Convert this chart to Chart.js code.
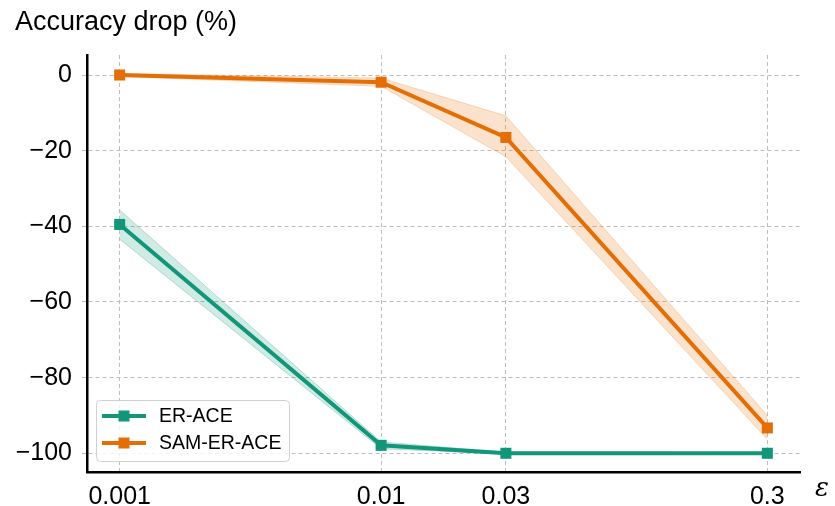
<!DOCTYPE html>
<html lang="en">
<head>
    <meta charset="UTF-8">
    <title>Accuracy drop vs epsilon</title>
    <script src="https://cdn.jsdelivr.net/npm/chart.js"></script>
    <style>
        body {
            margin: 0;
            background: #ffffff;
        }
        .wrap {
            width: 835px;
            height: 506px;
        }
    </style>
</head>
<body>
    <div class="wrap">
        <canvas id="dropChart" width="835" height="506"></canvas>
    </div>

    <script>
        // values
        const epsilons = [0.001, 0.01, 0.03, 0.3];
        const erAce = [-39.5, -97.9, -100, -100];
        const erAceUpper = [-35.7, -97.0, -99.7, -99.8];
        const erAceLower = [-43.4, -98.8, -100.2, -100.2];
        const samErAce = [0, -1.9, -16.5, -93.3];
        const samErAceUpper = [0.4, -0.8, -10.8, -90.0];
        const samErAceLower = [-0.4, -3.0, -21.6, -96.3];
        const xTicks = [0.001, 0.01, 0.03, 0.3];
        const yTicks = [-100, -80, -60, -40, -20, 0];

        const green = '#12967a';
        const orange = '#e46e05';
        const font = '"Liberation Sans", Arial, sans-serif';

        const toPoints = (ys) => ys.map((y, i) => ({ x: epsilons[i], y: y }));

        const extras = {
            id: 'extras',
            afterDraw(chart) {
                const ctx = chart.ctx;
                ctx.save();
                // title
                ctx.fillStyle = '#000';
                ctx.font = '27px ' + font;
                ctx.textBaseline = 'alphabetic';
                ctx.textAlign = 'left';
                ctx.fillText('Accuracy drop (%)', 15, 29.5);
                // epsilon axis label
                ctx.font = 'italic 26px "DejaVu Serif", serif';
                ctx.fillText('\u03b5', 815, 496);

                // legend box
                const bx = 96.5, by = 400.5, bw = 193, bh = 61;
                ctx.beginPath();
                ctx.roundRect(bx, by, bw, bh, 4);
                ctx.fillStyle = 'rgba(255,255,255,0.8)';
                ctx.fill();
                ctx.strokeStyle = '#d0d0d0';
                ctx.lineWidth = 1;
                ctx.stroke();

                const entries = [['ER-ACE', green, 416], ['SAM-ER-ACE', orange, 443]];
                entries.forEach(([label, color, y]) => {
                    ctx.strokeStyle = color;
                    ctx.lineWidth = 4;
                    ctx.beginPath();
                    ctx.moveTo(102, y);
                    ctx.lineTo(146, y);
                    ctx.stroke();
                    ctx.fillStyle = color;
                    ctx.fillRect(118.5, y - 5.5, 11, 11);
                    ctx.fillStyle = '#000';
                    ctx.font = '19.5px ' + font;
                    ctx.textBaseline = 'middle';
                    ctx.fillText(label, 159, y + 1);
                });
                ctx.restore();
            }
        };

        const bandStyle = (color) => ({
            borderColor: color,
            borderWidth: 1,
            pointRadius: 0,
            tension: 0
        });

        new Chart(document.getElementById('dropChart').getContext('2d'), {
            type: 'line',
            data: {
                datasets: [{
                    label: 'ER-ACE',
                    data: toPoints(erAce),
                    borderColor: green,
                    backgroundColor: green,
                    borderWidth: 4,
                    pointStyle: 'rect',
                    pointRadius: 7.8,
                    pointBorderWidth: 0,
                    fill: false,
                    order: 1
                }, {
                    label: 'SAM-ER-ACE',
                    data: toPoints(samErAce),
                    borderColor: orange,
                    backgroundColor: orange,
                    borderWidth: 4,
                    pointStyle: 'rect',
                    pointRadius: 7.8,
                    pointBorderWidth: 0,
                    fill: false,
                    order: 1
                }, {
                    label: 'er-upper',
                    data: toPoints(erAceUpper),
                    ...bandStyle('rgba(18,150,122,0.25)'),
                    backgroundColor: 'rgba(18,150,122,0.2)',
                    fill: '+1',
                    order: 3
                }, {
                    label: 'er-lower',
                    data: toPoints(erAceLower),
                    ...bandStyle('rgba(18,150,122,0.25)'),
                    fill: false,
                    order: 3
                }, {
                    label: 'sam-upper',
                    data: toPoints(samErAceUpper),
                    ...bandStyle('rgba(228,110,5,0.22)'),
                    backgroundColor: 'rgba(228,110,5,0.2)',
                    fill: '+1',
                    order: 3
                }, {
                    label: 'sam-lower',
                    data: toPoints(samErAceLower),
                    ...bandStyle('rgba(228,110,5,0.22)'),
                    fill: false,
                    order: 3
                }]
            },
            options: {
                responsive: false,
                animation: false,
                layout: { padding: { left: 0, right: 35, top: 55, bottom: 0 } },
                plugins: {
                    legend: { display: false },
                    tooltip: { enabled: false },
                    title: { display: false }
                },
                scales: {
                    x: {
                        type: 'logarithmic',
                        min: 0.00075,
                        max: 0.4,
                        afterBuildTicks: (scale) => { scale.ticks = xTicks.map(v => ({ value: v })); },
                        afterFit: (scale) => { scale.height = 34; },
                        grid: {
                            color: '#bdbdbd',
                            lineWidth: 1,
                            drawTicks: false
                        },
                        border: { display: true, color: '#000', width: 2.5, dash: [4, 3] },
                        ticks: {
                            color: '#000',
                            font: { family: font, size: 25 },
                            padding: 10,
                            maxRotation: 0,
                            autoSkip: false,
                            callback: (v) => String(v)
                        }
                    },
                    y: {
                        type: 'linear',
                        min: -104.95,
                        max: 5.29,
                        afterBuildTicks: (scale) => { scale.ticks = yTicks.map(v => ({ value: v })); },
                        afterFit: (scale) => { scale.width = 87; },
                        grid: {
                            color: '#bdbdbd',
                            lineWidth: 1,
                            drawTicks: true,
                            tickLength: 5,
                            tickColor: '#bdbdbd'
                        },
                        border: { display: true, color: '#000', width: 2.5, dash: [4, 3] },
                        ticks: {
                            color: '#000',
                            font: { family: font, size: 25 },
                            padding: 10,
                            callback: (v) => (v < 0 ? '\u2212' + Math.abs(v) : String(v))
                        }
                    }
                }
            },
            plugins: [extras]
        });
    </script>
</body>
</html>
